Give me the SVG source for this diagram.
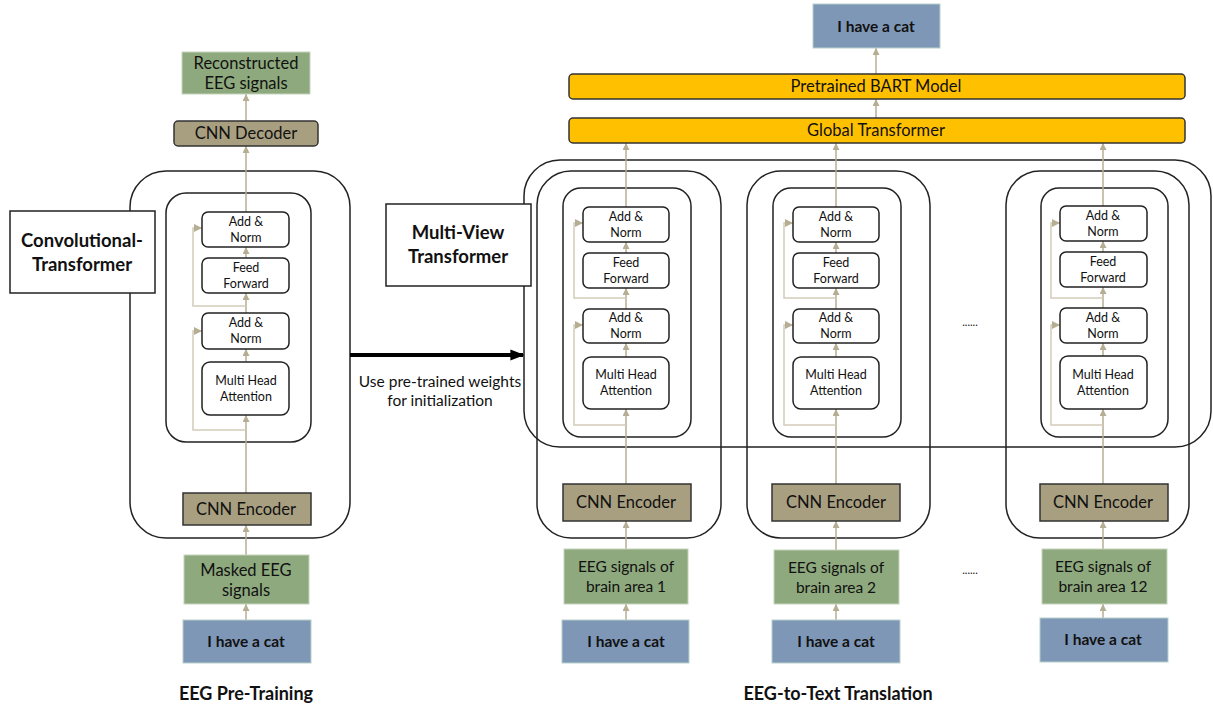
<svg xmlns="http://www.w3.org/2000/svg" width="1213" height="711" viewBox="0 0 1213 711">
<style>
text{font-family:Lato,"Liberation Sans",sans-serif;fill:#111;text-anchor:middle}
.t16{font-size:16.5px}
.t15{font-size:15.5px}
.t12{font-size:12.5px}
.b{font-weight:bold}
.green{fill:#8ea97d;stroke:#c5d3bc;stroke-width:1}
.blue{fill:#7f97b7;stroke:#b8d0cc;stroke-width:1}
.tan{fill:#a89f80;stroke:#333;stroke-width:1.5}
.orange{fill:#ffc000;stroke:#333;stroke-width:1.5}
.blk{fill:none;stroke:#222;stroke-width:1.5}
.blkw{fill:#fff;stroke:#222;stroke-width:1.5}
.lbl{fill:#fff;stroke:#222;stroke-width:1.5}
.c{fill:none;stroke:#b6ae93;stroke-width:1.5}
.r{fill:none;stroke:#d3ccb9;stroke-width:1.5}
</style>
<defs>
<marker id="ah" viewBox="0 0 10 10" refX="10" refY="5" markerWidth="7" markerHeight="7" orient="auto" markerUnits="userSpaceOnUse">
<path d="M0,0 L10,5 L0,10 z" fill="#b6ae93"/>
</marker>
<marker id="ah2" viewBox="0 0 10 10" refX="10" refY="5" markerWidth="8" markerHeight="8" orient="auto" markerUnits="userSpaceOnUse">
<path d="M0,0 L10,5 L0,10 z" fill="#b6ae93"/>
</marker>
<marker id="big" viewBox="0 0 10 10" refX="9" refY="5" markerWidth="14" markerHeight="14" orient="auto" markerUnits="userSpaceOnUse">
<path d="M0,1 L10,5 L0,9 z" fill="#000"/>
</marker>
</defs>

<!-- containers -->
<g id="pretrain-container">
<rect x="130" y="171" width="220" height="367" rx="36" class="blk"/>
<rect x="166" y="193" width="145" height="249" rx="20" class="blk"/>
</g>
<g id="multiview-container">
<rect x="524" y="160" width="687" height="287" rx="36" class="blk"/>
<rect x="537" y="171" width="184" height="367" rx="34" class="blk" stroke-width="1.2"/>
<rect x="747" y="171" width="183" height="367" rx="34" class="blk" stroke-width="1.2"/>
<rect x="1006" y="171" width="183" height="367" rx="34" class="blk" stroke-width="1.2"/>
<rect x="563" y="188" width="128" height="249" rx="18" class="blk"/>
<rect x="773" y="188" width="128" height="249" rx="18" class="blk"/>
<rect x="1041" y="188" width="127" height="249" rx="18" class="blk"/>
</g>

<!-- connectors -->
<g id="connectors">
<line x1="246" y1="620" x2="246" y2="604" class="c" marker-end="url(#ah)"/>
<line x1="246" y1="555" x2="246" y2="525" class="c" marker-end="url(#ah)"/>
<line x1="246" y1="493" x2="246" y2="415" class="c" marker-end="url(#ah)"/>
<line x1="246" y1="362" x2="246" y2="349" class="c" marker-end="url(#ah)"/>
<line x1="246" y1="313" x2="246" y2="293" class="c" marker-end="url(#ah)"/>
<line x1="246" y1="258" x2="246" y2="247" class="c" marker-end="url(#ah)"/>
<line x1="246" y1="212" x2="246" y2="146" class="c" marker-end="url(#ah)"/>
<line x1="246" y1="121" x2="246" y2="94" class="c" marker-end="url(#ah)"/>
<polyline points="246,306 193,306 193,228 202,228" class="r" marker-end="url(#ah2)"/>
<polyline points="246,430 193,430 193,331 202,331" class="r" marker-end="url(#ah2)"/>

<line x1="350" y1="355" x2="523" y2="355" stroke="#000" stroke-width="4" marker-end="url(#big)"/>

<!-- col 1 -->
<line x1="626" y1="620" x2="626" y2="604" class="c" marker-end="url(#ah)"/>
<line x1="626" y1="549" x2="626" y2="521" class="c" marker-end="url(#ah)"/>
<line x1="626" y1="484" x2="626" y2="409" class="c" marker-end="url(#ah)"/>
<line x1="626" y1="357" x2="626" y2="343" class="c" marker-end="url(#ah)"/>
<line x1="626" y1="309" x2="626" y2="288" class="c" marker-end="url(#ah)"/>
<line x1="626" y1="253" x2="626" y2="242" class="c" marker-end="url(#ah)"/>
<line x1="626" y1="207" x2="626" y2="143" class="c" marker-end="url(#ah)"/>
<polyline points="626,298 574,298 574,223 583,223" class="r" marker-end="url(#ah2)"/>
<polyline points="626,425 574,425 574,325 583,325" class="r" marker-end="url(#ah2)"/>
<!-- col 2 -->
<line x1="836" y1="620" x2="836" y2="604" class="c" marker-end="url(#ah)"/>
<line x1="836" y1="550" x2="836" y2="521" class="c" marker-end="url(#ah)"/>
<line x1="836" y1="484" x2="836" y2="409" class="c" marker-end="url(#ah)"/>
<line x1="836" y1="357" x2="836" y2="343" class="c" marker-end="url(#ah)"/>
<line x1="836" y1="309" x2="836" y2="288" class="c" marker-end="url(#ah)"/>
<line x1="836" y1="253" x2="836" y2="242" class="c" marker-end="url(#ah)"/>
<line x1="836" y1="207" x2="836" y2="143" class="c" marker-end="url(#ah)"/>
<polyline points="836,298 784,298 784,223 793,223" class="r" marker-end="url(#ah2)"/>
<polyline points="836,425 784,425 784,325 793,325" class="r" marker-end="url(#ah2)"/>
<!-- col 3 -->
<line x1="1103" y1="618" x2="1103" y2="604" class="c" marker-end="url(#ah)"/>
<line x1="1103" y1="549" x2="1103" y2="521" class="c" marker-end="url(#ah)"/>
<line x1="1103" y1="484" x2="1103" y2="409" class="c" marker-end="url(#ah)"/>
<line x1="1103" y1="356" x2="1103" y2="343" class="c" marker-end="url(#ah)"/>
<line x1="1103" y1="308" x2="1103" y2="287" class="c" marker-end="url(#ah)"/>
<line x1="1103" y1="252" x2="1103" y2="241" class="c" marker-end="url(#ah)"/>
<line x1="1103" y1="206" x2="1103" y2="143" class="c" marker-end="url(#ah)"/>
<polyline points="1103,298 1051,298 1051,223 1060,223" class="r" marker-end="url(#ah2)"/>
<polyline points="1103,425 1051,425 1051,325 1060,325" class="r" marker-end="url(#ah2)"/>

<line x1="876" y1="118" x2="876" y2="99" class="c" marker-end="url(#ah)"/>
<line x1="876" y1="74" x2="876" y2="48" class="c" marker-end="url(#ah)"/>
</g>

<!-- left pre-training nodes -->
<g id="recon"><rect x="182" y="52" width="128" height="42" class="green"/><text class="t16" x="246" y="69">Reconstructed</text><text class="t16" x="246" y="89">EEG signals</text></g>
<g id="cnn-decoder"><rect x="174" y="121" width="144" height="25" rx="4" class="tan"/><text class="t16" x="246" y="139">CNN Decoder</text></g>
<g id="l-addnorm1"><rect x="202" y="212" width="87" height="35" rx="6" class="blkw"/><text class="t12" x="246" y="226">Add &amp;</text><text class="t12" x="246" y="242">Norm</text></g>
<g id="l-ff"><rect x="202" y="258" width="87" height="35" rx="6" class="blkw"/><text class="t12" x="246" y="272">Feed</text><text class="t12" x="246" y="288">Forward</text></g>
<g id="l-addnorm2"><rect x="202" y="313" width="87" height="36" rx="6" class="blkw"/><text class="t12" x="246" y="327">Add &amp;</text><text class="t12" x="246" y="343">Norm</text></g>
<g id="l-mha"><rect x="202" y="362" width="87" height="53" rx="8" class="blkw"/><text class="t12" x="246" y="385">Multi Head</text><text class="t12" x="246" y="401">Attention</text></g>
<g id="l-cnn-encoder"><rect x="183" y="493" width="128" height="32" class="tan"/><text class="t16" x="246" y="515">CNN Encoder</text></g>
<g id="masked"><rect x="184" y="555" width="125" height="49" class="green"/><text class="t16" x="246" y="576">Masked EEG</text><text class="t16" x="246" y="596">signals</text></g>
<g id="l-cat"><rect x="183" y="620" width="128" height="43" class="blue"/><text class="t15 b" x="246" y="647">I have a cat</text></g>
<g id="conv-transformer-label"><rect x="10" y="211" width="145" height="82" class="lbl"/><text class="b" font-size="18.5" x="82" y="247">Convolutional-</text><text class="b" font-size="18.5" x="82" y="271">Transformer</text></g>
<g id="init-label"><text class="t15" x="440" y="387">Use pre-trained weights</text><text class="t15" x="440" y="406">for initialization</text></g>
<g id="title-left"><text class="b" font-size="18" x="246" y="700">EEG Pre-Training</text></g>

<!-- right translation nodes -->
<g id="multiview-label"><rect x="386" y="204" width="145" height="82" class="lbl"/><text class="b" font-size="18.5" x="458" y="239">Multi-View</text><text class="b" font-size="18.5" x="458" y="263">Transformer</text></g>
<g id="top-cat"><rect x="813" y="4" width="127" height="44" class="blue"/><text class="t15 b" x="876" y="32">I have a cat</text></g>
<g id="bart"><rect x="569" y="74" width="616" height="25" rx="4" class="orange"/><text class="t16" x="876" y="92">Pretrained BART Model</text></g>
<g id="global"><rect x="569" y="118" width="616" height="25" rx="4" class="orange"/><text class="t16" x="876" y="136">Global Transformer</text></g>

<g id="c1-addnorm1"><rect x="583" y="207" width="86" height="35" rx="6" class="blkw"/><text class="t12" x="626" y="221">Add &amp;</text><text class="t12" x="626" y="237">Norm</text></g>
<g id="c1-ff"><rect x="583" y="253" width="86" height="35" rx="6" class="blkw"/><text class="t12" x="626" y="267">Feed</text><text class="t12" x="626" y="283">Forward</text></g>
<g id="c1-addnorm2"><rect x="583" y="309" width="86" height="34" rx="6" class="blkw"/><text class="t12" x="626" y="322">Add &amp;</text><text class="t12" x="626" y="338">Norm</text></g>
<g id="c1-mha"><rect x="583" y="357" width="86" height="52" rx="8" class="blkw"/><text class="t12" x="626" y="379">Multi Head</text><text class="t12" x="626" y="395">Attention</text></g>
<g id="c1-cnn"><rect x="563" y="484" width="128" height="37" class="tan"/><text class="t16" x="626" y="508">CNN Encoder</text></g>
<g id="c1-eeg"><rect x="564" y="549" width="124" height="55" class="green"/><text class="t15" x="626" y="572">EEG signals of</text><text class="t15" x="626" y="592">brain area 1</text></g>
<g id="c1-cat"><rect x="562" y="620" width="127" height="43" class="blue"/><text class="t15 b" x="626" y="647">I have a cat</text></g>

<g id="c2-addnorm1"><rect x="793" y="207" width="86" height="35" rx="6" class="blkw"/><text class="t12" x="836" y="221">Add &amp;</text><text class="t12" x="836" y="237">Norm</text></g>
<g id="c2-ff"><rect x="793" y="253" width="86" height="35" rx="6" class="blkw"/><text class="t12" x="836" y="267">Feed</text><text class="t12" x="836" y="283">Forward</text></g>
<g id="c2-addnorm2"><rect x="793" y="309" width="86" height="34" rx="6" class="blkw"/><text class="t12" x="836" y="322">Add &amp;</text><text class="t12" x="836" y="338">Norm</text></g>
<g id="c2-mha"><rect x="793" y="357" width="86" height="52" rx="8" class="blkw"/><text class="t12" x="836" y="379">Multi Head</text><text class="t12" x="836" y="395">Attention</text></g>
<g id="c2-cnn"><rect x="772" y="484" width="128" height="37" class="tan"/><text class="t16" x="836" y="508">CNN Encoder</text></g>
<g id="c2-eeg"><rect x="774" y="550" width="125" height="54" class="green"/><text class="t15" x="836" y="573">EEG signals of</text><text class="t15" x="836" y="593">brain area 2</text></g>
<g id="c2-cat"><rect x="772" y="620" width="128" height="43" class="blue"/><text class="t15 b" x="836" y="647">I have a cat</text></g>

<g id="c3-addnorm1"><rect x="1060" y="206" width="87" height="35" rx="6" class="blkw"/><text class="t12" x="1103" y="220">Add &amp;</text><text class="t12" x="1103" y="236">Norm</text></g>
<g id="c3-ff"><rect x="1060" y="252" width="87" height="35" rx="6" class="blkw"/><text class="t12" x="1103" y="266">Feed</text><text class="t12" x="1103" y="282">Forward</text></g>
<g id="c3-addnorm2"><rect x="1060" y="308" width="87" height="35" rx="6" class="blkw"/><text class="t12" x="1103" y="322">Add &amp;</text><text class="t12" x="1103" y="338">Norm</text></g>
<g id="c3-mha"><rect x="1060" y="356" width="87" height="53" rx="8" class="blkw"/><text class="t12" x="1103" y="379">Multi Head</text><text class="t12" x="1103" y="395">Attention</text></g>
<g id="c3-cnn"><rect x="1040" y="484" width="128" height="37" class="tan"/><text class="t16" x="1103" y="508">CNN Encoder</text></g>
<g id="c3-eeg"><rect x="1042" y="549" width="125" height="55" class="green"/><text class="t15" x="1103" y="572">EEG signals of</text><text class="t15" x="1103" y="592">brain area 12</text></g>
<g id="c3-cat"><rect x="1040" y="618" width="128" height="44" class="blue"/><text class="t15 b" x="1103" y="645">I have a cat</text></g>

<g id="ellipsis"><text font-size="11" x="970" y="326">......</text><text font-size="11" x="970" y="574">......</text></g>
<g id="title-right"><text class="b" font-size="18" x="838" y="700">EEG-to-Text Translation</text></g>
</svg>
